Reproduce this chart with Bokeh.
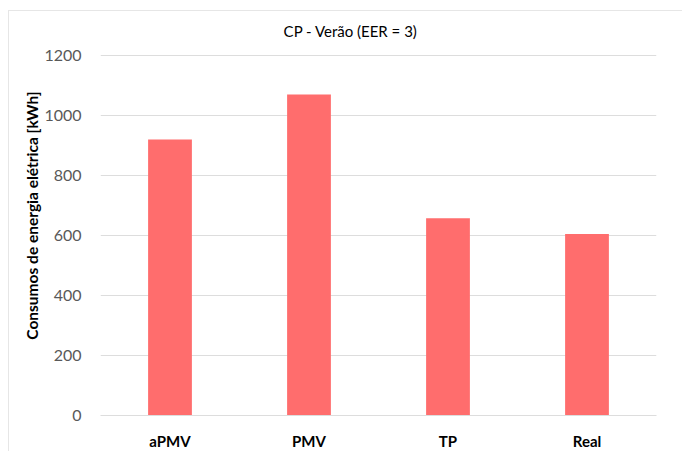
from bokeh.plotting import figure
from bokeh.models import Label, NumeralTickFormatter, FixedTicker, Range1d
from bokeh.embed import file_html
from bokeh.resources import INLINE

categories = ["aPMV", "PMV", "TP", "Real"]
values = [920, 1070, 657, 605]
y_ticks = [0, 200, 400, 600, 800, 1000, 1200]
title_text = "CP - Verão (EER = 3)"

FONT = "Lato"

# y range extended above 1200 so the chart title can sit inside the frame
p = figure(x_range=categories, y_range=Range1d(0, 1333), width=674, height=441,
           output_backend="svg", toolbar_location=None,
           min_border_left=91, min_border_right=27, min_border_top=4, min_border_bottom=31)
p.vbar(x=categories, top=values, width=0.315, color="#FF6D6D", line_color=None)

p.outline_line_color = None
p.background_fill_color = "white"
p.border_fill_color = "white"
p.styles = {"border-left": "1px solid #E6E6E6", "border-top": "1px solid #E6E6E6",
            "margin-left": "8px", "margin-top": "10px"}

p.xgrid.grid_line_color = None
p.ygrid.grid_line_color = "#DDDDDD"
p.ygrid.grid_line_width = 1

p.yaxis.ticker = FixedTicker(ticks=y_ticks)
p.yaxis.formatter = NumeralTickFormatter(format="0")
p.yaxis.axis_line_color = None
p.yaxis.major_tick_line_color = None
p.yaxis.minor_tick_line_color = None
p.yaxis.major_label_standoff = 13
p.yaxis.major_label_text_font = FONT
p.yaxis.major_label_text_font_size = "16px"
p.yaxis.major_label_text_color = "#595959"
p.yaxis.axis_label = "Consumos de energia elétrica [kWh]"
p.yaxis.axis_label_text_font = FONT
p.yaxis.axis_label_text_font_style = "bold"
p.yaxis.axis_label_text_font_size = "15.5px"
p.yaxis.axis_label_text_color = "#000000"
p.yaxis.axis_label_standoff = 0

p.xaxis.axis_line_color = "#DDDDDD"
p.xaxis.major_tick_line_color = None
p.xaxis.minor_tick_line_color = None
p.xaxis.major_label_standoff = 10
p.xaxis.major_label_text_font = FONT
p.xaxis.major_label_text_font_style = "bold"
p.xaxis.major_label_text_font_size = "15px"
p.xaxis.major_label_text_color = "#000000"

title = Label(x=1.80, y=1283, text=title_text, text_align="center",
              text_baseline="middle", text_font=FONT, text_font_size="15px",
              text_color="#000000")
p.add_layout(title)

open("out.html", "w").write(file_html(p, INLINE))
